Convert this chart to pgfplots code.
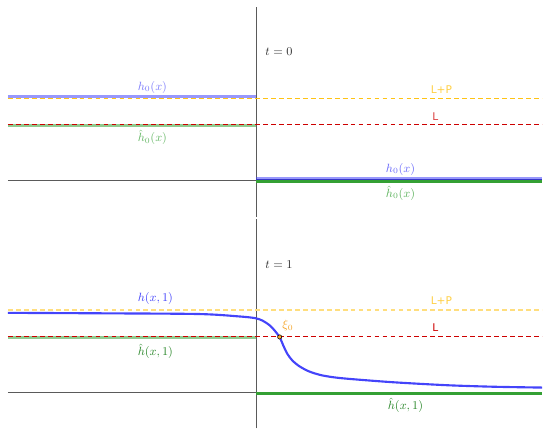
\documentclass[border=0pt]{standalone}
\usepackage{pgfplots}
\pgfplotsset{compat=1.18}
\usepackage{fontspec}
\newfontfamily\lpfont{DejaVu Sans}
\definecolor{axgray}{RGB}{90,90,90}
\definecolor{hblue}{RGB}{68,68,250}
\definecolor{hgreen}{RGB}{52,160,52}
\definecolor{lpyellow}{RGB}{255,195,20}
\definecolor{lred}{RGB}{205,0,0}
\definecolor{xiorange}{RGB}{245,165,40}
\pgfplotsset{
  panel/.style={scale only axis, width=408pt, xmin=-257, xmax=287,
    axis line style={draw=none}, ticks=none, clip=false},
  ax/.style={axgray, line width=0.8pt, no marks},
  dsh/.style={dash pattern=on 3.6pt off 2.4pt, line width=0.9pt, no marks},
}
\begin{document}
\begin{tikzpicture}
\begin{axis}[panel, name=top, height=164.25pt, ymin=-38, ymax=181]
% axes
\addplot[ax] coordinates {(-249,0) (287,0)};
\addplot[ax] coordinates {(0,-37) (0,174)};
% left initial data (faded)
\addplot[hblue, opacity=0.55, line width=2pt, no marks] coordinates {(-249,84) (0,84)};
\addplot[hgreen, opacity=0.55, line width=2pt, no marks] coordinates {(-249,55) (0,55)};
% levels
\addplot[lpyellow, dsh, line width=1.1pt] coordinates {(-249,82.3) (287,82.3)};
\addplot[lred, dsh] coordinates {(-249,56) (287,56)};
% right initial data
\addplot[hblue, opacity=0.55, line width=3pt, no marks] coordinates {(0,1.5) (287,1.5)};
\addplot[hblue!80!black, line width=1.2pt, no marks] coordinates {(0,1) (287,1)};
\addplot[hgreen, line width=1.6pt, no marks] coordinates {(0,-1.2) (287,-1.2)};
% labels
\node[hblue!70, font=\small] at (axis cs:-104,93) {$h_0(x)$};
\node[hgreen!75, font=\small] at (axis cs:-104,43) {$\hat h_0(x)$};
\node[hblue!80, font=\small] at (axis cs:145,11) {$h_0(x)$};
\node[hgreen!80, font=\small] at (axis cs:145,-13) {$\hat h_0(x)$};
\node[lpyellow!80, font=\lpfont\footnotesize] at (axis cs:186,91) {L+P};
\node[lred!75, font=\lpfont\footnotesize] at (axis cs:180,64) {L};
\node[font=\small, black!80] at (axis cs:23,129) {$t=0$};
\end{axis}
\begin{axis}[panel, at={(top.south west)}, anchor=north west, height=158.25pt, ymin=-36, ymax=175]
\addplot[ax] coordinates {(-249,0) (287,0)};
\addplot[ax] coordinates {(0,-36) (0,174)};
\addplot[hgreen, opacity=0.55, line width=2pt, no marks] coordinates {(-249,55) (0,55)};
\addplot[lpyellow!55, dsh, line width=1pt] coordinates {(-249,83) (287,83)};
\addplot[lred, dsh] coordinates {(-249,56) (287,56)};
\addplot[hgreen, line width=1.8pt, no marks] coordinates {(0,-1) (287,-1)};
\addplot[hblue, line width=1.6pt, smooth, no marks] coordinates {
(-249,80) (-150,79.5) (-57,78.8) (-17,76.4) (-1,74.7) (6,72.4) (13,68) (18,63) (23.7,55.5)
(27.3,47.3) (31.3,39) (36.3,32.3) (43,26.7) (53,21.3) (66,17.3) (83,14.7) (111,12.3)
(143,10) (193,7.3) (240,5.8) (287,5)};
\addplot[only marks, mark=*, mark size=1.6pt, mark options={fill=xiorange, draw=black, line width=0.4pt}] coordinates {(23.7,55.8)};
\node[hblue, font=\small] at (axis cs:-101,94) {$h(x,1)$};
\node[hgreen!85!black, font=\small] at (axis cs:-101,41) {$\hat h(x,1)$};
\node[hgreen!85!black, font=\small] at (axis cs:150,-13) {$\hat h(x,1)$};
\node[xiorange, font=\small] at (axis cs:32,67) {$\xi_0$};
\node[lpyellow!80, font=\lpfont\footnotesize] at (axis cs:186,92) {L+P};
\node[lred, font=\lpfont\footnotesize] at (axis cs:180,65) {L};
\node[font=\small, black!80] at (axis cs:23,128) {$t=1$};
\end{axis}
\end{tikzpicture}
\end{document}
